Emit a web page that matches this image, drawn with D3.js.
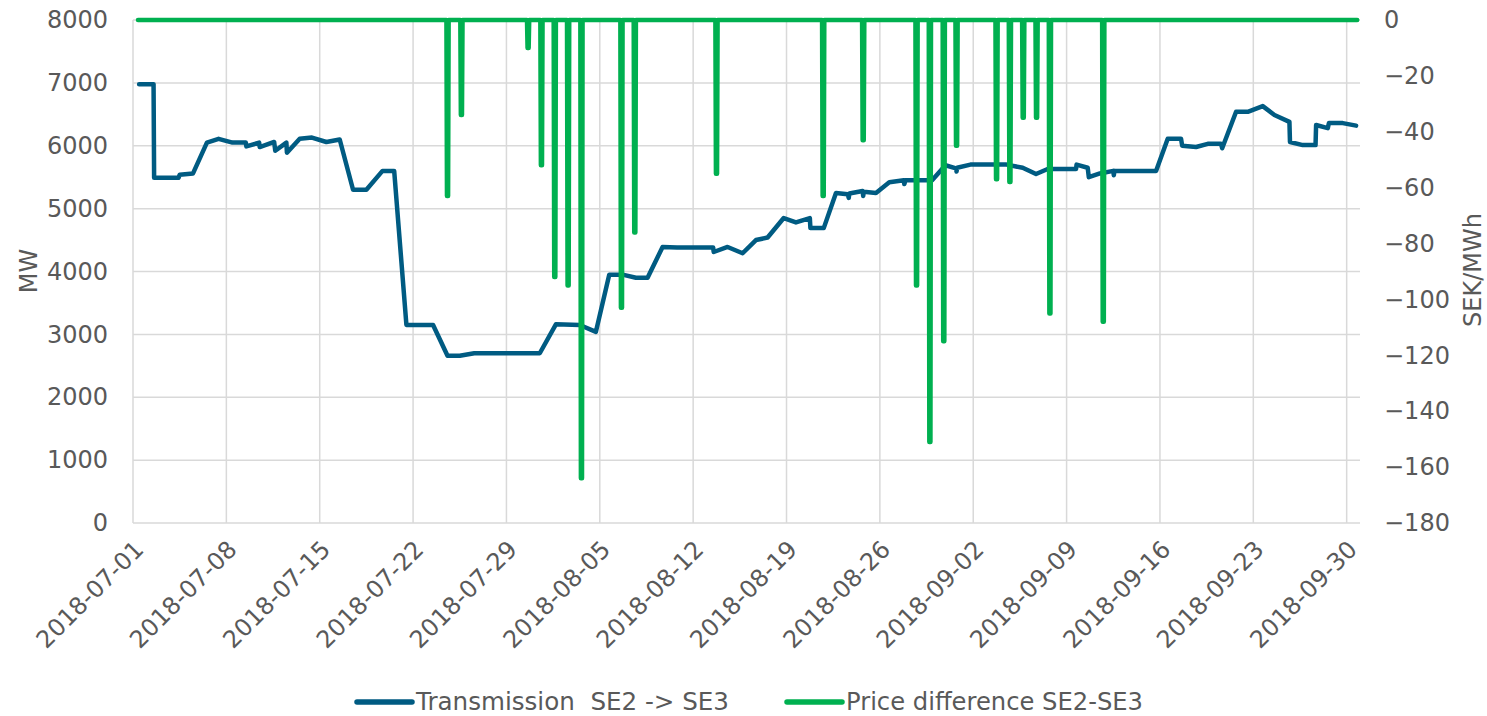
<!DOCTYPE html>
<html>
<head>
<meta charset="utf-8">
<script src="https://cdn.jsdelivr.net/npm/d3@7"></script>
<style>
  body { margin: 0; background: #fff; }
  text { font-family: "DejaVu Sans", Verdana, sans-serif; fill: #595959; }
</style>
</head>
<body>
<div id="chart"></div>
<script>
// Transmission SE2 -> SE3 (MW)
const transTimes = [
  "2018-07-01T11", "2018-07-02T13", "2018-07-02T14", "2018-07-04T10", "2018-07-04T12",
  "2018-07-05T12", "2018-07-06T13", "2018-07-07T10", "2018-07-08T11", "2018-07-09T11",
  "2018-07-09T12", "2018-07-10T11", "2018-07-10T12", "2018-07-11T14", "2018-07-11T16",
  "2018-07-12T12", "2018-07-12T13", "2018-07-13T12", "2018-07-14T10", "2018-07-15T12",
  "2018-07-16T12", "2018-07-17T12", "2018-07-18T12", "2018-07-19T17", "2018-07-20T14",
  "2018-07-21T12", "2018-07-23T12", "2018-07-24T14", "2018-07-25T12", "2018-07-26T14",
  "2018-07-31T12", "2018-08-01T17", "2018-08-03T12", "2018-08-04T17", "2018-08-05T17",
  "2018-08-06T17", "2018-08-07T17", "2018-08-08T14", "2018-08-09T17", "2018-08-10T19",
  "2018-08-13T12", "2018-08-13T13", "2018-08-14T14", "2018-08-15T17", "2018-08-16T17",
  "2018-08-17T14", "2018-08-18T19", "2018-08-19T17", "2018-08-20T18", "2018-08-20T19",
  "2018-08-21T19", "2018-08-22T17", "2018-08-23T14", "2018-08-23T16", "2018-08-23T17",
  "2018-08-24T17", "2018-08-24T18", "2018-08-24T19", "2018-08-25T17", "2018-08-26T17",
  "2018-08-27T19", "2018-08-27T20", "2018-08-27T22", "2018-08-29T22", "2018-08-30T22",
  "2018-08-31T17", "2018-08-31T18", "2018-08-31T19", "2018-09-01T19", "2018-09-04T12",
  "2018-09-05T17", "2018-09-06T17", "2018-09-07T14", "2018-09-09T17", "2018-09-09T18",
  "2018-09-10T14", "2018-09-10T16", "2018-09-11T12", "2018-09-12T12", "2018-09-12T13",
  "2018-09-12T14", "2018-09-15T17", "2018-09-16T14", "2018-09-17T14", "2018-09-17T16",
  "2018-09-18T17", "2018-09-19T14", "2018-09-20T14", "2018-09-20T16", "2018-09-21T17",
  "2018-09-22T14", "2018-09-23T17", "2018-09-24T14", "2018-09-25T17", "2018-09-25T18",
  "2018-09-26T17", "2018-09-27T16", "2018-09-27T17", "2018-09-28T14", "2018-09-28T16",
  "2018-09-29T17", "2018-09-30T17"
];
const transMW = [
  6980, 6980, 5490, 5490, 5540,
  5560, 6050, 6110, 6050, 6050,
  5990, 6050, 5980, 6060, 5920,
  6050, 5890, 6110, 6130, 6060,
  6100, 5300, 5300, 5600, 5600,
  3150, 3150, 2660, 2660, 2700,
  2700, 3160, 3150, 3040, 3950,
  3950, 3900, 3900, 4390, 4380,
  4380, 4310, 4390, 4290, 4500,
  4540, 4850, 4780, 4850, 4690,
  4690, 5250, 5230, 5170, 5240,
  5280, 5200, 5270, 5250, 5420,
  5450, 5390, 5450, 5450, 5690,
  5640, 5590, 5650, 5700, 5700,
  5650, 5550, 5630, 5630, 5700,
  5650, 5500, 5560, 5600, 5530,
  5600, 5600, 6110, 6110, 6000,
  5980, 6030, 6030, 5960, 6540,
  6540, 6630, 6490, 6380, 6060,
  6010, 6010, 6330, 6280, 6360,
  6360, 6320
];

// Price difference SE2-SE3 (SEK/MWh): zero except these hours
const priceStart = "2018-07-01T09";
const priceEnd = "2018-09-30T19";
const spikeTimes = [
  "2018-07-24T13", "2018-07-25T14", "2018-07-30T14", "2018-07-31T14", "2018-08-01T14",
  "2018-08-02T14", "2018-08-03T14", "2018-08-06T14", "2018-08-07T14", "2018-08-13T17",
  "2018-08-21T17", "2018-08-24T17", "2018-08-28T17", "2018-08-29T17", "2018-08-30T18",
  "2018-08-31T17", "2018-09-03T17", "2018-09-04T17", "2018-09-05T17", "2018-09-06T17",
  "2018-09-07T17", "2018-09-11T17"
];
const spikeValues = [
  -63, -34, -10, -52, -92,
  -95, -164, -103, -76, -55,
  -63, -43, -95, -151, -115,
  -45, -57, -58, -35, -35,
  -105, -108
];

const mwTicks = [0, 1000, 2000, 3000, 4000, 5000, 6000, 7000, 8000];
const sekTicks = [0, -20, -40, -60, -80, -100, -120, -140, -160, -180];
const dateTicks = [
  "2018-07-01", "2018-07-08", "2018-07-15", "2018-07-22", "2018-07-29", "2018-08-05", "2018-08-12",
  "2018-08-19", "2018-08-26", "2018-09-02", "2018-09-09", "2018-09-16", "2018-09-23", "2018-09-30"
];
const seriesNames = ["Transmission  SE2 -> SE3", "Price difference SE2-SE3"];
const seriesColors = ["#005b82", "#00b050"];

const width = 1487, height = 716;
const margin = { top: 20, right: 127, bottom: 193, left: 133 };
const parseHour = d3.timeParse("%Y-%m-%dT%H");
const parseDay = d3.timeParse("%Y-%m-%d");
const fontSize = "24px";

const svg = d3.select("#chart").append("svg")
    .attr("width", width)
    .attr("height", height);

const x = d3.scaleTime()
    .domain([parseDay("2018-07-01"), parseDay("2018-10-01")])
    .range([margin.left, width - margin.right]);
const yL = d3.scaleLinear().domain([0, 8000]).range([height - margin.bottom, margin.top]);
const yR = d3.scaleLinear().domain([-180, 0]).range([height - margin.bottom, margin.top]);

const weekTicks = dateTicks.map(parseDay);

// Gridlines
const grid = svg.append("g").attr("stroke", "#d9d9d9").attr("stroke-width", 1.5);
grid.selectAll(".h").data(mwTicks).enter().append("line")
    .attr("x1", margin.left).attr("x2", width - margin.right)
    .attr("y1", d => yL(d)).attr("y2", d => yL(d));
grid.selectAll(".v").data(weekTicks).enter().append("line")
    .attr("x1", d => x(d)).attr("x2", d => x(d))
    .attr("y1", margin.top).attr("y2", height - margin.bottom);

// Left axis
const leftAxis = svg.append("g")
    .attr("transform", `translate(${margin.left},0)`)
    .call(d3.axisLeft(yL).tickValues(mwTicks).tickFormat(d3.format("d")).tickSize(0).tickPadding(25));
leftAxis.select(".domain").remove();

// Right axis
const rightAxis = svg.append("g")
    .attr("transform", `translate(${width - margin.right},0)`)
    .call(d3.axisRight(yR).tickValues(sekTicks).tickFormat(d3.format("d")).tickSize(0).tickPadding(24));
rightAxis.select(".domain").remove();

svg.selectAll(".tick text")
    .style("font-size", fontSize)
    .style("font-family", "'DejaVu Sans', Verdana, sans-serif")
    .attr("fill", "#595959");

// Date labels, rotated
svg.append("g").selectAll("text")
    .data(weekTicks)
    .enter()
    .append("text")
    .attr("text-anchor", "end")
    .attr("transform", d => `translate(${x(d) + 12},${height - margin.bottom + 28}) rotate(-45)`)
    .style("font-size", fontSize)
    .text((d, i) => dateTicks[i]);

// Axis titles
svg.append("text")
    .attr("text-anchor", "middle")
    .attr("transform", `translate(37,271) rotate(-90)`)
    .style("font-size", fontSize)
    .text("MW");
svg.append("text")
    .attr("text-anchor", "middle")
    .attr("transform", `translate(1481,270) rotate(-90)`)
    .style("font-size", fontSize)
    .text("SEK/MWh");

// Transmission line
const transData = transTimes.map((t, i) => ({ t: parseHour(t), v: transMW[i] }));
svg.append("path")
    .datum(transData)
    .attr("fill", "none")
    .attr("stroke", seriesColors[0])
    .attr("stroke-width", 4.5)
    .attr("stroke-linejoin", "round")
    .attr("stroke-linecap", "round")
    .attr("d", d3.line().x(d => x(d.t)).y(d => yL(d.v)));

// Price difference line (zero baseline, spikes last a few hours)
const priceData = [{ t: parseHour(priceStart), v: 0 }];
spikeTimes.forEach((s, i) => {
    const t = parseHour(s);
    priceData.push({ t: d3.timeHour.offset(t, -1), v: 0 });
    priceData.push({ t: t, v: spikeValues[i] });
    priceData.push({ t: d3.timeHour.offset(t, 2), v: spikeValues[i] });
    priceData.push({ t: d3.timeHour.offset(t, 3), v: 0 });
});
priceData.push({ t: parseHour(priceEnd), v: 0 });
svg.append("path")
    .datum(priceData)
    .attr("fill", "none")
    .attr("stroke", seriesColors[1])
    .attr("stroke-width", 4.5)
    .attr("stroke-linejoin", "round")
    .attr("stroke-linecap", "round")
    .attr("d", d3.line().x(d => x(d.t)).y(d => yR(d.v)));

// Legend
const legendX = [357, 787];
const legendTextLen = [313, 297];
const legend = svg.append("g").selectAll("g")
    .data(seriesNames)
    .enter()
    .append("g")
    .attr("transform", (d, i) => `translate(${legendX[i]},702)`);
legend.append("line")
    .attr("x1", 0).attr("x2", 55)
    .attr("stroke", (d, i) => seriesColors[i])
    .attr("stroke-width", 5.5)
    .attr("stroke-linecap", "round");
legend.append("text")
    .attr("x", 59)
    .attr("y", 8)
    .style("font-size", fontSize)
    .attr("xml:space", "preserve")
    .attr("textLength", (d, i) => legendTextLen[i])
    .attr("lengthAdjust", "spacingAndGlyphs")
    .text(d => d);
</script>
</body>
</html>
